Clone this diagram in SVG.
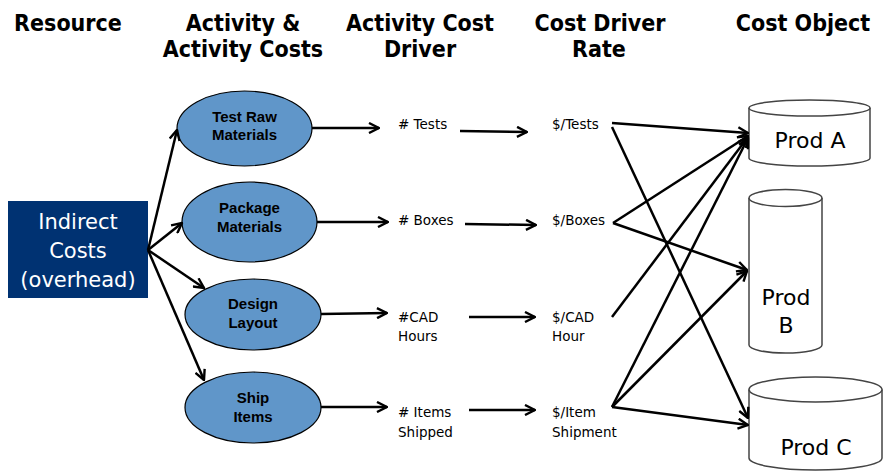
<svg xmlns="http://www.w3.org/2000/svg" width="885" height="474" viewBox="0 0 885 474">
  <defs>
    <marker id="ah" viewBox="0 0 12 12" refX="11" refY="6" markerWidth="12" markerHeight="12" orient="auto" markerUnits="userSpaceOnUse">
      <path d="M1,1 L11,6 L1,11" fill="none" stroke="#000" stroke-width="2.4" stroke-linejoin="miter"/>
    </marker>
  </defs>
  <style>
    .hdr { font-family: "DejaVu Sans Condensed", "DejaVu Sans", sans-serif; font-stretch: condensed; font-weight: bold; font-size: 23px; fill: #000; text-anchor: middle; }
    .act { fill: #6096C9; stroke: #000; stroke-width: 1.2; }
    .actt { font-family: "Liberation Sans", Arial, sans-serif; font-weight: bold; font-size: 15px; fill: #000; text-anchor: middle; }
    .lbl { font-family: "DejaVu Sans", Verdana, sans-serif; font-size: 13.5px; fill: #000; }
    .cyl { fill: #fff; stroke: #444; stroke-width: 1.5; }
    .prod { font-family: "DejaVu Sans", Verdana, sans-serif; font-size: 22px; fill: #000; text-anchor: middle; }
    .res { font-family: "DejaVu Sans", Verdana, sans-serif; font-size: 21px; fill: #fff; text-anchor: middle; }
    .conn line { stroke: #000; stroke-width: 2.5; marker-end: url(#ah); }
    .conn line.plain { marker-end: none; }
  </style>
  <rect width="885" height="474" fill="#fff"/>

  <!-- column headings -->
  <g id="headers">
    <text class="hdr" x="68" y="31">Resource</text>
    <text class="hdr" x="243" y="31">Activity &amp;</text>
    <text class="hdr" x="243" y="57">Activity Costs</text>
    <text class="hdr" x="420" y="31">Activity Cost</text>
    <text class="hdr" x="420" y="57">Driver</text>
    <text class="hdr" x="600" y="31">Cost Driver</text>
    <text class="hdr" x="599" y="57">Rate</text>
    <text class="hdr" x="803" y="31">Cost Object</text>
  </g>

  <!-- resource -->
  <g id="indirect-costs">
    <rect x="8" y="201" width="140" height="97" fill="#003272"/>
    <text class="res" x="78" y="229">Indirect</text>
    <text class="res" x="78" y="258">Costs</text>
    <text class="res" x="78" y="287">(overhead)</text>
  </g>

  <!-- activities -->
  <g id="act-test">
    <ellipse class="act" cx="244.5" cy="128.5" rx="67.5" ry="37.5"/>
    <text class="actt" x="244.5" y="122">Test Raw</text>
    <text class="actt" x="244.5" y="140">Materials</text>
  </g>
  <g id="act-package">
    <ellipse class="act" cx="249.5" cy="222" rx="67.5" ry="40"/>
    <text class="actt" x="249.5" y="213">Package</text>
    <text class="actt" x="249.5" y="232">Materials</text>
  </g>
  <g id="act-design">
    <ellipse class="act" cx="253" cy="314.5" rx="68" ry="35.5"/>
    <text class="actt" x="253" y="309">Design</text>
    <text class="actt" x="253" y="328">Layout</text>
  </g>
  <g id="act-ship">
    <ellipse class="act" cx="253" cy="407.5" rx="68" ry="35.5"/>
    <text class="actt" x="253" y="403">Ship</text>
    <text class="actt" x="253" y="422">Items</text>
  </g>

  <!-- activity cost drivers -->
  <g id="drv-tests"><text class="lbl" x="398" y="129"># Tests</text></g>
  <g id="drv-boxes"><text class="lbl" x="398" y="225"># Boxes</text></g>
  <g id="drv-cad"><text class="lbl" x="398" y="322">#CAD</text><text class="lbl" x="398" y="341">Hours</text></g>
  <g id="drv-items"><text class="lbl" x="398" y="417"># Items</text><text class="lbl" x="398" y="437">Shipped</text></g>

  <!-- cost driver rates -->
  <g id="rate-tests"><text class="lbl" x="552" y="129">$/Tests</text></g>
  <g id="rate-boxes"><text class="lbl" x="552" y="225">$/Boxes</text></g>
  <g id="rate-cad"><text class="lbl" x="552" y="322">$/CAD</text><text class="lbl" x="552" y="341">Hour</text></g>
  <g id="rate-item"><text class="lbl" x="552" y="417">$/Item</text><text class="lbl" x="552" y="437">Shipment</text></g>

  <!-- cost objects -->
  <g id="prod-a">
    <path class="cyl" d="M749,108 L749,158 A60.5,8 0 0 0 870,158 L870,108"/>
    <ellipse class="cyl" cx="809.5" cy="108" rx="60.5" ry="8"/>
    <text class="prod" x="810" y="148">Prod A</text>
  </g>
  <g id="prod-b">
    <path class="cyl" d="M749,198 L749,345 A36.5,8 0 0 0 822,345 L822,198"/>
    <ellipse class="cyl" cx="785.5" cy="198" rx="36.5" ry="8.5"/>
    <text class="prod" x="786" y="305">Prod</text>
    <text class="prod" x="786" y="333">B</text>
  </g>
  <g id="prod-c">
    <path class="cyl" d="M749,389.5 L749,458 A66.5,12 0 0 0 882,458 L882,389.5"/>
    <ellipse class="cyl" cx="815.5" cy="389.5" rx="66.5" ry="12.5"/>
    <text class="prod" x="816" y="455">Prod C</text>
  </g>

  <!-- connectors -->
  <g id="connectors" class="conn">
    <line x1="148" y1="250" x2="177" y2="130"/>
    <line x1="148" y1="250" x2="182" y2="223"/>
    <line x1="148" y1="250" x2="204" y2="288"/>
    <line x1="148" y1="250" x2="204" y2="380"/>

    <line x1="312" y1="128" x2="379" y2="128"/>
    <line x1="317" y1="222" x2="388" y2="222"/>
    <line x1="321" y1="314" x2="387" y2="313"/>
    <line x1="321" y1="407" x2="387" y2="407"/>

    <line x1="460" y1="131" x2="527" y2="132"/>
    <line x1="465" y1="224" x2="536" y2="225"/>
    <line x1="469" y1="317" x2="535" y2="317"/>
    <line x1="469" y1="410" x2="535" y2="410"/>

    <line x1="612" y1="123" x2="748" y2="133"/>
    <line x1="612" y1="127" x2="748" y2="418"/>
    <line x1="613" y1="223" x2="748" y2="136"/>
    <line x1="613" y1="223" x2="747" y2="270"/>
    <line x1="612" y1="317" x2="748" y2="137"/>
    <line x1="612" y1="407" x2="748" y2="138"/>
    <line x1="612" y1="407" x2="747" y2="271"/>
    <line x1="612" y1="407" x2="748" y2="425"/>
  </g>
</svg>
